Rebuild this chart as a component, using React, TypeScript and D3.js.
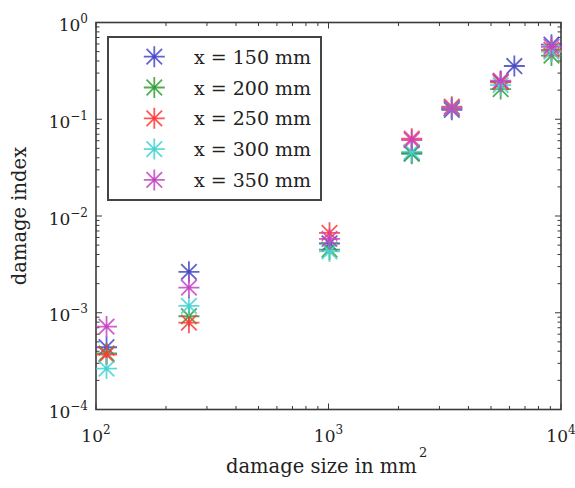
import React from 'react';
import * as d3 from 'd3';

// damage sizes (mm^2) and damage index per sensor distance
const damageSizes = [111, 251, 1010, 2280, 3390, 5500, 6300, 9100];
const idx150 = [4.4e-4, 2.65e-3, 5.2e-3, 0.045, 0.125, 0.245, 0.355, 0.59];
const idx200 = [3.8e-4, 9.2e-4, 4.5e-3, 0.044, 0.13, 0.205, null, 0.455];
const idx250 = [3.7e-4, 7.9e-4, 6.7e-3, 0.063, 0.135, 0.24, null, 0.52];
const idx300 = [2.65e-4, 1.18e-3, 4.3e-3, 0.046, 0.13, 0.225, null, 0.5];
const idx350 = [7.2e-4, 1.82e-3, 5.8e-3, 0.061, 0.13, 0.25, null, 0.56];

const seriesLabels = ['x = 150 mm', 'x = 200 mm', 'x = 250 mm', 'x = 300 mm', 'x = 350 mm'];
const seriesColors = ['#4646c8', '#34a034', '#ff3a3a', '#44d2d2', '#c444c4'];
const seriesValues = [idx150, idx200, idx250, idx300, idx350];

const xTickExps = [2, 3, 4];
const yTickExps = [0, -1, -2, -3, -4];

const W = 575, H = 488;
const left = 96, right = 561, top = 22.5, bottom = 409.5;
const font = '"DejaVu Serif", serif';
const axisColor = '#3a3a3a';

function starPath(cx: number, cy: number, r: number) {
  const d = r * 0.74;
  return `M${cx - r},${cy}H${cx + r}M${cx},${cy - r}V${cy + r}` +
    `M${cx - d},${cy - d}L${cx + d},${cy + d}M${cx - d},${cy + d}L${cx + d},${cy - d}`;
}

function Star({ x, y, color }: { x: number; y: number; color: string }) {
  return (
    <g>
      <path d={starPath(x, y, 10.5)} stroke={color} strokeWidth={1.8} strokeOpacity={0.85} fill="none" />
      <circle cx={x} cy={y} r={1.8} fill={color} />
    </g>
  );
}

export default function App() {
  const x = d3.scaleLog().domain([100, 10000]).range([left, right]);
  const y = d3.scaleLog().domain([1e-4, 1]).range([bottom, top]);

  const xMinor: number[] = [];
  [100, 1000].forEach(b => { for (let k = 2; k <= 9; k++) xMinor.push(b * k); });
  const yMinor: number[] = [];
  [1e-4, 1e-3, 1e-2, 1e-1].forEach(b => { for (let k = 2; k <= 9; k++) yMinor.push(b * k); });

  const major = 6, minor = 3.5;

  return (
    <svg width={W} height={H} style={{ position: 'absolute', left: 0, top: 0, background: '#fff' }}>
      {/* ticks */}
      <g stroke={axisColor} strokeWidth={1}>
        {xTickExps.map(e => {
          const px = x(Math.pow(10, e));
          return <g key={'xt' + e}>
            <line x1={px} x2={px} y1={bottom} y2={bottom - major} />
            <line x1={px} x2={px} y1={top} y2={top + major} />
          </g>;
        })}
        {xMinor.map(v => {
          const px = x(v);
          return <g key={'xm' + v}>
            <line x1={px} x2={px} y1={bottom} y2={bottom - minor} />
            <line x1={px} x2={px} y1={top} y2={top + minor} />
          </g>;
        })}
        {yTickExps.map(e => {
          const py = y(Math.pow(10, e));
          return <g key={'yt' + e}>
            <line x1={left} x2={left + major} y1={py} y2={py} />
            <line x1={right} x2={right - major} y1={py} y2={py} />
          </g>;
        })}
        {yMinor.map(v => {
          const py = y(v);
          return <g key={'ym' + v}>
            <line x1={left} x2={left + minor} y1={py} y2={py} />
            <line x1={right} x2={right - minor} y1={py} y2={py} />
          </g>;
        })}
      </g>
      <rect x={left} y={top} width={right - left} height={bottom - top} fill="none" stroke={axisColor} strokeWidth={1.6} />

      {/* tick labels */}
      {xTickExps.map(e => (
        <text key={'xl' + e} x={x(Math.pow(10, e))} y={441.5} textAnchor="middle" fontFamily={font} fontSize={17} fill="#222">
          10<tspan fontSize={12} dy={-8}>{e}</tspan>
        </text>
      ))}
      {yTickExps.map(e => (
        <text key={'yl' + e} x={88} y={y(Math.pow(10, e)) + 8.5} textAnchor="end" fontFamily={font} fontSize={17} fill="#222">
          10<tspan fontSize={12} dy={-8}>{e === 0 ? '0' : '\u2212' + Math.abs(e)}</tspan>
        </text>
      ))}

      {/* axis titles */}
      <text x={226} y={473} fontFamily={font} fontSize={19.5} fill="#222">
        <tspan>damage size in mm</tspan>
        <tspan x={419} y={457} fontSize={13}>2</tspan>
      </text>
      <text transform="translate(26,216) rotate(-90)" textAnchor="middle" fontFamily={font} fontSize={19.5} fill="#222">
        damage index
      </text>

      {/* data */}
      {seriesValues.map((vals, si) => (
        <g key={'s' + si}>
          {vals.map((v, i) => v == null ? null : (
            <Star key={i} x={x(damageSizes[i])} y={y(v)} color={seriesColors[si]} />
          ))}
        </g>
      ))}

      {/* legend */}
      <rect x={108} y={37} width={213} height={163} fill="#fff" stroke="#444" strokeWidth={2} />
      {seriesLabels.map((lab, i) => {
        const cy = 56.7 + i * 30.8;
        return (
          <g key={'lg' + i}>
            <Star x={154.3} y={cy} color={seriesColors[i]} />
            <text x={194} y={cy + 7} fontFamily={font} fontSize={19} fill="#222">{lab}</text>
          </g>
        );
      })}
    </svg>
  );
}
